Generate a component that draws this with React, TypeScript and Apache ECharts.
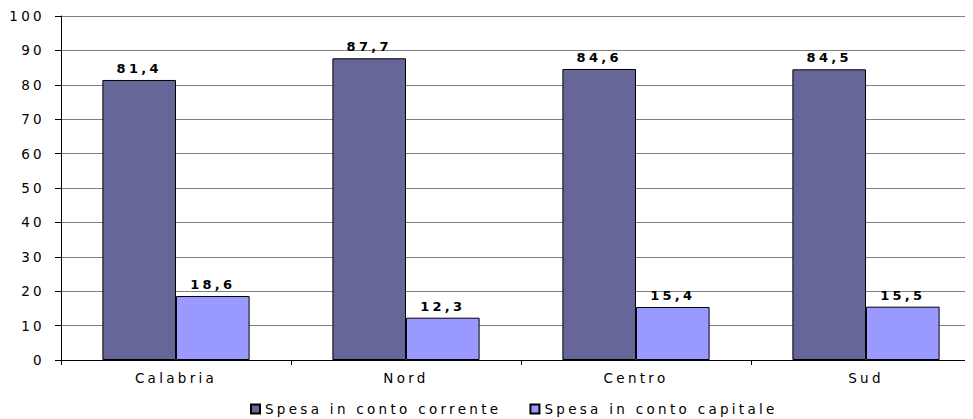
import React, { useEffect, useRef } from "react";
import * as echarts from "echarts";

const categories = ["Calabria", "Nord", "Centro", "Sud"];
const seriesNames = ["Spesa in conto corrente", "Spesa in conto capitale"];
const correnteValues = [81.4, 87.7, 84.6, 84.5];
const capitaleValues = [18.6, 12.3, 15.4, 15.5];
const colors = ["#666699", "#9999FF"];

const FONT = "DejaVu Sans, Verdana, sans-serif";

export default function App() {
  const ref = useRef<HTMLDivElement>(null);
  useEffect(() => {
    if (!ref.current) return;
    const chart = echarts.init(ref.current, undefined, { renderer: "svg" });
    const label = {
      show: true,
      position: "top",
      distance: 5,
      fontFamily: FONT,
      fontSize: 13,
      fontWeight: "bold",
      color: "#000",
      formatter: (p: any) => String(p.value).replace(".", ","),
    };
    chart.setOption({
      animation: false,
      textStyle: { fontFamily: FONT },
      legend: {
        data: seriesNames,
        top: 389,
        left: 237,
        itemWidth: 9,
        itemHeight: 9,
        itemGap: 104,
        icon: "rect",
        textStyle: { fontFamily: FONT, fontSize: 13.5, color: "#000" },
      },
      grid: { left: 53, top: 8, width: 920, height: 344, containLabel: false },
      xAxis: {
        type: "category",
        data: categories,
        axisLine: { lineStyle: { color: "#000", width: 1 } },
        axisTick: { show: true, length: 5, inside: false, lineStyle: { color: "#000" } },
        axisLabel: { fontFamily: FONT, fontSize: 13.5, color: "#000", margin: 11 },
      },
      yAxis: {
        type: "value",
        min: 0,
        max: 100,
        interval: 10,
        axisLine: { show: true, lineStyle: { color: "#000", width: 1 } },
        axisTick: { show: true, length: 6, lineStyle: { color: "#000" } },
        axisLabel: { fontFamily: FONT, fontSize: 13.5, color: "#000", margin: 16 },
        splitLine: { show: true, lineStyle: { color: "#808080", width: 1 } },
      },
      series: [
        {
          name: seriesNames[0],
          type: "bar",
          data: correnteValues,
          barGap: "0%",
          barCategoryGap: "36%",
          itemStyle: { color: colors[0], borderColor: "#000", borderWidth: 1 },
          label,
        },
        {
          name: seriesNames[1],
          type: "bar",
          data: capitaleValues,
          barGap: "0%",
          barCategoryGap: "36%",
          itemStyle: { color: colors[1], borderColor: "#000", borderWidth: 1 },
          label,
        },
      ],
    });
    return () => chart.dispose();
  }, []);
  return (
    <div style={{ width: 965, height: 411, overflow: "hidden" }}>
      <div ref={ref} style={{ width: 990, height: 411, letterSpacing: "3.3px" }} />
    </div>
  );
}
